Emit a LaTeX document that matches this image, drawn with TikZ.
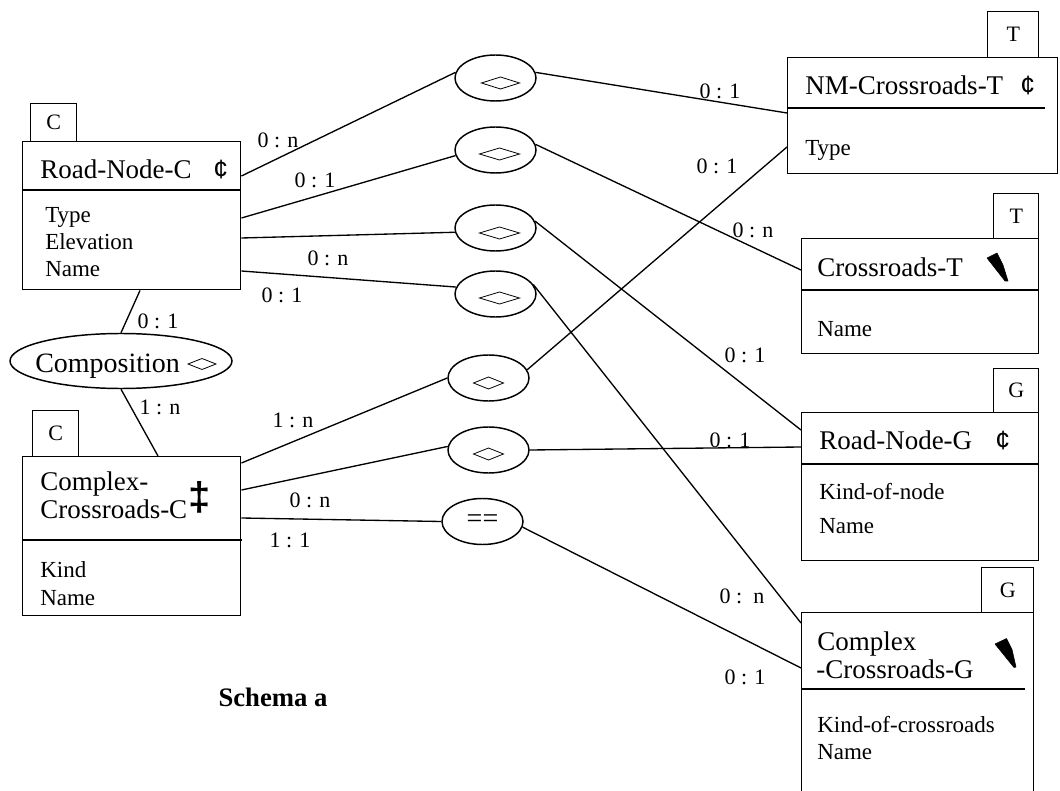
\documentclass[tikz,border=0pt]{standalone}
\usepackage{fontspec}
\setmainfont{Liberation Serif}
\newfontfamily\sansf{Liberation Sans}
\usetikzlibrary{shapes.geometric,calc}
\tikzset{
  box/.style={draw, line width=1.1pt, rectangle, anchor=north west, inner sep=0pt},
  tagbox/.style={draw, line width=1.1pt, rectangle, anchor=north west, inner sep=0pt,
    font=\fontsize{16.5}{18}\selectfont},
  rel/.style={draw, ellipse, line width=1.1pt, minimum width=60.75pt, minimum height=34.5pt, inner sep=0pt},
  conn/.style={line width=1pt},
  divider/.style={line width=1.1pt},
  lbl/.style={font=\fontsize{16.5}{18}\selectfont, inner sep=0pt},
  ttl/.style={font=\fontsize{20.25}{24}\selectfont, anchor=base west, inner sep=0pt},
  attr/.style={font=\fontsize{17.25}{20}\selectfont, anchor=base west, inner sep=0pt},
  sym/.style={font=\sansf\fontsize{20}{24}\selectfont, anchor=base west, inner sep=0pt},
  dmd/.style={line width=0.6pt},
  wedge/.style={fill=black, draw=black, line width=0.4pt, line join=round},
}
\newcommand\reldmd[5]{% node, dx, dy, halfwidth, halfheight
  \draw[dmd] ($(#1.center)+(#2-#4,#3)$) -- ($(#1.center)+(#2,#3-#5)$) -- ($(#1.center)+(#2+#4,#3)$) -- ($(#1.center)+(#2,#3+#5)$) -- cycle;}
\begin{document}
\begin{tikzpicture}[x=0.75pt,y=-0.75pt]
\useasboundingbox (0,0) rectangle (1060,791);
\clip (0,0) rectangle (1060,791);

% ---------- left boxes ----------
\node[box, minimum width=163.5pt, minimum height=111pt] (rnc) at (22,141) {};
\draw[divider] (22,190) -- (240,190);
\node[tagbox, minimum width=34.5pt, minimum height=28.5pt] (rnctag) at (30,103) {C};
\node[ttl] (rnctitle) at (40,179) {Road-Node-C};
\node[sym] (rnccent) at (213,179) {¢};
\node[attr] (rnca1) at (45,223) {Type};
\node[attr] (rnca2) at (45,250) {Elevation};
\node[attr] (rnca3) at (45,277) {Name};

\node[rel, minimum width=166.5pt, minimum height=41.25pt] (comp) at (121,361) {};
\node[font=\fontsize{21}{24}\selectfont, anchor=base west, inner sep=0pt] (comptext) at (35,373) {Composition};
\draw[dmd] (188,364) -- (202,358.5) -- (216,364) -- (202,369.5) -- cycle;

\node[box, minimum width=163.5pt, minimum height=119.25pt] (ccc) at (22,456) {};
\draw[divider] (22,540) -- (242,540);
\node[tagbox, minimum width=34.5pt, minimum height=34.5pt] (ccctag) at (32,410) {C};
\node[ttl] (ccctitle1) at (40,490) {Complex-};
\node[ttl] (ccctitle2) at (40,518) {Crossroads-C};
\node[font=\sansf\bfseries\fontsize{30}{34}\selectfont, inner sep=0pt] (cccdag) at (200,497) {‡};
\node[attr] (ccca1) at (40,577) {Kind};
\node[attr] (ccca2) at (40,605) {Name};

% ---------- right boxes ----------
\node[box, minimum width=202.5pt, minimum height=87pt] (nmt) at (787,57) {};
\draw[divider] (787,108) -- (1045,108);
\node[tagbox, minimum width=38.25pt, minimum height=34.5pt] (nmttag) at (987,11) {T};
\node[ttl] (nmttitle) at (805,95) {NM-Crossroads-T};
\node[sym] (nmtcent) at (1020,95) {¢};
\node[attr] (nmta1) at (805,156) {Type};

\node[box, minimum width=177.75pt, minimum height=86.25pt] (crt) at (801,238) {};
\draw[divider] (801,290) -- (1038,290);
\node[tagbox, minimum width=33.75pt, minimum height=33.75pt] (crttag) at (993,193) {T};
\node[ttl] (crttitle) at (817,277) {Crossroads-T};
\draw[wedge] (987,258) -- (997,253) -- (1003,265) -- (1008,281) -- (1005,281) -- cycle;
\node[attr] (crta1) at (817,337) {Name};

\node[box, minimum width=177.75pt, minimum height=111pt] (rng) at (801,412) {};
\draw[divider] (801,464) -- (1038,464);
\node[tagbox, minimum width=33.75pt, minimum height=33pt] (rngtag) at (993,368) {G};
\node[ttl] (rngtitle) at (819,450) {Road-Node-G};
\node[sym] (rngcent) at (995,450) {¢};
\node[attr] (rnga1) at (819,499) {Kind-of-node};
\node[attr] (rnga2) at (819,533) {Name};

\node[box, minimum width=174pt, minimum height=150pt] (ccg) at (801,612) {};
\draw[divider] (801,689) -- (1025,689);
\node[tagbox, minimum width=39pt, minimum height=33.75pt] (ccgtag) at (981,567) {G};
\node[ttl] (ccgtitle1) at (817,650) {Complex};
\node[ttl] (ccgtitle2) at (816,678) {-Crossroads-G};
\draw[wedge] (995,644) -- (1006.5,638.5) -- (1012,649.5) -- (1016,667) -- (1014,667.5) -- cycle;
\node[attr] (ccga1) at (817,732) {Kind-of-crossroads};
\node[attr] (ccga2) at (817,759) {Name};

% ---------- relationships ----------
\node[rel] (e1) at (495.5,78) {};
\node[rel] (e2) at (495.5,150) {};
\node[rel] (e3) at (495.5,228) {};
\node[rel] (e4) at (495.5,294) {};
\node[rel] (e5) at (488.5,378) {};
\node[rel] (e6) at (488.5,450) {};
\node[rel, font=\fontsize{21}{24}\selectfont] (e7) at (482.5,521.5) {==};
\reldmd{e1}{5}{5}{19}{6}
\reldmd{e2}{4}{4}{20}{6}
\reldmd{e3}{4}{5}{20}{6}
\reldmd{e4}{4}{4}{20}{6}
\reldmd{e5}{0}{5}{15}{6}
\reldmd{e6}{0}{4}{15}{6}

% ---------- connectors ----------
\draw[conn] ($(rnc.south west)+(118,0)$) -- (comp.north);
\draw[conn] (comp.south) -- ($(ccc.north west)+(136,0)$);
\draw[conn] ($(rnc.north east)+(0,35)$) -- (e1.172);
\draw[conn] ($(rnc.north east)+(0,77)$) -- (e2.188);
\draw[conn] ($(rnc.north east)+(0,97)$) -- (e3.186);
\draw[conn] ($(rnc.north east)+(0,130)$) -- (e4.170);
\draw[conn] ($(ccc.north east)+(0,7)$) -- (e5.west);
\draw[conn] ($(ccc.north east)+(0,34)$) -- (e6.175);
\draw[conn] ($(ccc.north east)+(0,62)$) -- (e7.west);
\draw[conn] (e1.8) -- ($(nmt.north west)+(0,56)$);
\draw[conn] (e2.8) -- ($(crt.north west)+(0,32)$);
\draw[conn] (e5.12) -- ($(nmt.north west)+(0,90)$);
\draw[conn] (e3.10) -- ($(rng.north west)+(0,18)$);
\draw[conn] (e4.14) -- ($(ccg.north west)+(0,11)$);
\draw[conn] (e6.east) -- ($(rng.north west)+(0,35)$);
\draw[conn] (e7.-8) -- ($(ccg.north west)+(0,56)$);

% ---------- cardinalities ----------
\node[lbl] (l1) at (278,140) {0 : n};
\node[lbl] (l2) at (315,180) {0 : 1};
\node[lbl] (l3) at (328,258) {0 : n};
\node[lbl] (l4) at (282,295) {0 : 1};
\node[lbl] (l5) at (158,321) {0 : 1};
\node[lbl] (l6) at (160,407) {1 : n};
\node[lbl] (l7) at (293,420) {1 : n};
\node[lbl] (l8) at (310,500) {0 : n};
\node[lbl] (l9) at (290,540) {1 : 1};
\node[lbl] (l10) at (720,91) {0 : 1};
\node[lbl] (l11) at (717,166) {0 : 1};
\node[lbl] (l12) at (753,230) {0 : n};
\node[lbl] (l13) at (745,355) {0 : 1};
\node[lbl] (l14) at (730,440) {0 : 1};
\node[lbl] (l15) at (742,596) {0 :\ \ n};
\node[lbl] (l16) at (745,677) {0 : 1};

\node[font=\bfseries\fontsize{20}{24}\selectfont, inner sep=0pt] (caption) at (273,697) {Schema a};
\end{tikzpicture}
\end{document}
